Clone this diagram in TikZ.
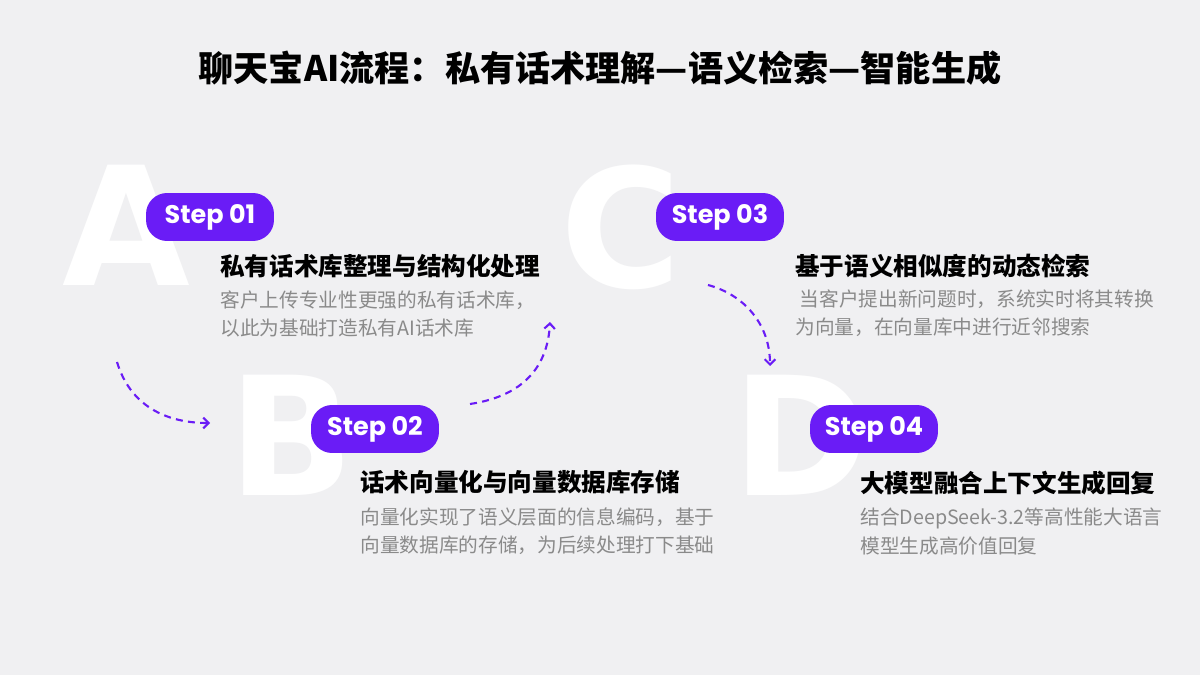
\documentclass[tikz,border=0pt]{standalone}
\usetikzlibrary{arrows.meta}
\usepackage{fontspec}
\setmainfont{Noto Sans CJK SC}
\newfontfamily\pop{Poppins}
\newfontfamily\lib{DejaVu Sans}
\definecolor{bg}{HTML}{F0F0F2}
\definecolor{pur}{HTML}{6A1CF6}
\definecolor{gry}{HTML}{8A8A8A}
\begin{document}
\begin{tikzpicture}[x=0.02cm,y=-0.02cm,
 big/.style={anchor=north west,inner sep=0,text=white,font=\lib\bfseries\fontsize{94}{94}\selectfont},
 pill/.style={fill=pur,rounded corners=12pt,minimum width=2.56cm,minimum height=0.96cm,text=white,font=\pop\bfseries\fontsize{14.5}{14.5}\selectfont},
 head/.style={anchor=west,inner sep=0,font=\bfseries\fontsize{14}{14}\selectfont},
 body/.style={anchor=north west,inner sep=0,text=gry,align=left,font=\fontsize{11.2}{16}\selectfont},
 arr/.style={pur,line width=1.2pt,dash pattern=on 4pt off 3pt,-{Straight Barb[length=3pt]}}]
\fill[bg] (0,0) rectangle (1200,675);
\node[font=\bfseries\fontsize{20}{20}\selectfont] (title) at (600,68) {聊天宝AI流程：私有话术理解—语义检索—智能生成};
\node[big] (la) at (62,165) {A};
\node[big] (lc) at (560,165) {C};
\node[big] (lb) at (228,375) {B};
\node[big] (ld) at (732,375) {D};
\node[pill] (s1) at (210,217) {Step 01};
\node[pill] (s3) at (720,217) {Step 03};
\node[pill] (s2) at (375,429) {Step 02};
\node[pill] (s4) at (874,429) {Step 04};
\node[head] (h1) at (220,266) {私有话术库整理与结构化处理};
\node[body] (b1) at (220,290) {客户上传专业性更强的私有话术库，\\以此为基础打造私有AI话术库};
\node[head] (h3) at (795,266) {基于语义相似度的动态检索};
\node[body] (b3) at (795,289) {\ 当客户提出新问题时，系统实时将其转换\\为向量，在向量库中进行近邻搜索};
\node[head] (h2) at (360,482) {话术向量化与向量数据库存储};
\node[body] (b2) at (360,507) {向量化实现了语义层面的信息编码，基于\\向量数据库的存储，为后续处理打下基础};
\node[head] (h4) at (860,483) {大模型融合上下文生成回复};
\node[body] (b4) at (860,508) {结合DeepSeek-3.2等高性能大语言\\模型生成高价值回复};
\coordinate (a1s) at (117,362); \coordinate (a1e) at (210,423);
\coordinate (a2s) at (470,404); \coordinate (a2e) at (550,322);
\coordinate (a3s) at (708,285); \coordinate (a3e) at (770,366);
\draw[arr] (a1s) .. controls (130,405) and (165,423) .. (a1e);
\draw[arr] (a2s) .. controls (530,395) and (548,360) .. (a2e);
\draw[arr] (a3s) .. controls (745,295) and (770,325) .. (a3e);
\end{tikzpicture}
\end{document}
